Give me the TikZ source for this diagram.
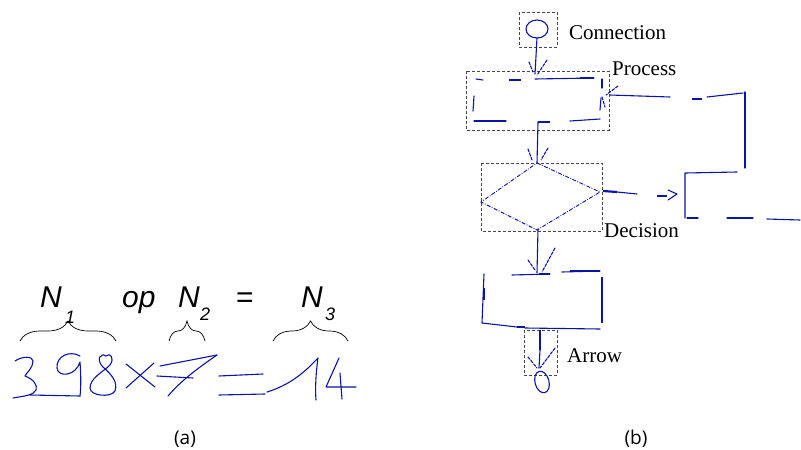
\documentclass[tikz,border=0pt]{standalone}
\usepackage{fontspec}
\setmainfont{Liberation Serif}
\newfontfamily\helv{Liberation Sans}
\newfontfamily\capfont{Open Sans}
\usetikzlibrary{decorations.pathreplacing}
\definecolor{hw}{RGB}{10,20,165}
\definecolor{boxgray}{RGB}{70,70,70}
\tikzset{
  ink/.style={draw=hw, line width=1.1pt, line cap=round, line join=round},
  thickink/.style={draw=hw, line width=2.6pt},
  frame/.style={draw=boxgray, dashed, dash pattern=on 3pt off 2pt, line width=0.8pt},
  flabel/.style={font=\fontsize{21}{24}\selectfont, inner sep=0pt},
  mlabel/.style={font=\helv\itshape\fontsize{30}{32}\selectfont, inner sep=0pt, anchor=base west},
  msub/.style={font=\helv\itshape\fontsize{18}{20}\selectfont, inner sep=0pt, anchor=base west},
  captxt/.style={font=\capfont\fontsize{19}{22}\selectfont, inner sep=0pt},
  brc/.style={draw=black, line width=0.7pt, decorate, decoration={brace, amplitude=20pt}}
}
\begin{document}
\begin{tikzpicture}[x=1pt,y=-1pt]
\useasboundingbox (0,0) rectangle (801,450);
% ---------- (a) ----------
\node[mlabel] (n1) at (40,307) {N};
\node[msub] (s1) at (65,323) {1};
\node[mlabel] (op) at (122,307) {op};
\node[mlabel] (n2) at (178,307) {N};
\node[msub] (s2) at (200,320) {2};
\node[mlabel, font=\helv\fontsize{30}{32}\selectfont] (eq) at (236,307) {=};
\node[mlabel] (n3) at (301,307) {N};
\node[msub] (s3) at (325,320) {3};
\coordinate (b1l) at (20,341); \coordinate (b1r) at (116,341);
\coordinate (b2l) at (169,341); \coordinate (b2r) at (205,341);
\coordinate (b3l) at (273,341); \coordinate (b3r) at (348,341);
\draw[brc] (b1l) -- (b1r);
\draw[brc] (b2l) -- (b2r);
\draw[brc] (b3l) -- (b3r);
% handwriting 398x7=14
\draw[ink] (15,361) .. controls (22,356) and (33,356) .. (33,361) .. controls (33,368) and (27,372) .. (25,376)
  .. controls (33,379) and (38,385) .. (36,390) .. controls (34,395) and (25,396) .. (13,398);
\draw[ink] (30,395) -- (80,396);
\draw[ink] (80,356) .. controls (70,350) and (56,356) .. (57,368) .. controls (58,378) and (76,376) .. (80,362)
  .. controls (81,375) and (81,388) .. (80,396);
\draw[ink] (106,356) .. controls (100,352) and (96,360) .. (103,367) .. controls (112,375) and (118,382) .. (115,391)
  .. controls (111,398) and (90,396) .. (90,388) .. controls (90,378) and (103,372) .. (110,365) .. controls (115,358) and (110,352) .. (106,356);
\draw[ink] (126,364) -- (155,387);
\draw[ink] (154,363) -- (126,388);
\draw[ink] (160,366) -- (217,355);
\draw[ink] (157,376) -- (193,378);
\draw[ink] (217,355) .. controls (195,370) and (180,382) .. (168,396);
\draw[ink] (219,376) -- (263,374);
\draw[ink] (219,395) -- (265,394);
\draw[ink] (267,392) .. controls (290,385) and (305,372) .. (318,358) .. controls (316,372) and (315,388) .. (316,400);
\draw[ink] (339,358) -- (326,387) -- (356,387);
\draw[ink] (340,373) -- (342,399);
\node[captxt] (ca) at (185,439) {(a)};
% ---------- (b) ----------
% connection
\draw[frame] (519,12) rectangle (557,47);
\coordinate (circ) at (537,29);
\draw[ink] (circ) ellipse [x radius=11, y radius=9];
\coordinate (ctop) at (537,38);
\node[flabel, anchor=west] (lconn) at (569,33) {Connection};
% process
\draw[frame] (466,71) rectangle (609,130);
\node[flabel, anchor=west] (lproc) at (612,69) {Process};
\draw[ink] (476,79) -- (483,80);
\draw[thickink] (509,80) -- (521,80);
\draw[ink] (535,79) -- (594,78);
\draw[thickink] (580,78) -- (594,78);
\draw[ink] (602,79) -- (602,88);
\draw[ink] (601,98) -- (600,110);
\draw[ink] (474,96) -- (473,111);
\draw[ink] (474,121) -- (506,121);
\draw[thickink] (538,122) -- (550,122);
\draw[ink] (570,121) -- (600,119);
% conn -> process
\coordinate (p1) at (535,74);
\draw[ink] (ctop) -- (p1);
\draw[ink, dash pattern=on 3pt off 1.5pt] (529,62) -- (533,72);
\draw[ink, dash pattern=on 3pt off 1.5pt] (547,60) -- (537,75);
% process -> decision
\coordinate (p2) at (538,122);
\coordinate (d1) at (537,163);
\draw[ink] (p2) -- (d1);
\draw[ink, dash pattern=on 3pt off 1.5pt] (528,149) -- (532,160);
\draw[ink, dash pattern=on 3pt off 1.5pt] (548,148) -- (541,160);
% decision
\draw[frame] (481,163) rectangle (602,231);
\draw[draw=hw, line width=0.9pt, dash pattern=on 4pt off 1.5pt on 0.8pt off 1.5pt] (537,163) -- (600,192) -- (537,230) -- (481,202) -- cycle;
\node[flabel, anchor=west] (ldec) at (604,231) {Decision};
% decision -> loop
\draw[thickink, line width=2.2pt] (603,191) -- (617,192);
\draw[ink] (617,192) -- (637,194);
\draw[thickink, line width=2.2pt] (657,196) -- (667,196);
\draw[ink] (668,190) -- (677,194) -- (668,200);
\draw[ink] (685,218) -- (685,173) -- (737,172);
\draw[ink] (745,168) -- (745,92);
\draw[ink] (743,93) -- (707,97);
\draw[thickink, line width=2.2pt] (692,99) -- (702,99);
\draw[ink] (670,97) -- (610,95);
\draw[ink] (687,218) -- (698,218);
\draw[ink] (727,218) -- (753,218);
\draw[ink] (767,219) -- (800,220);
\draw[ink, dash pattern=on 3pt off 1.5pt] (618,86) -- (606,95);
\draw[ink, dash pattern=on 3pt off 1.5pt] (602,97) -- (605,107);
% decision -> box
\coordinate (d2) at (538,229);
\coordinate (r1) at (537,273);
\draw[ink] (d2) -- (r1);
\draw[ink, dash pattern=on 3pt off 1.5pt] (528,260) -- (535,270);
\draw[ink, dash pattern=on 3pt off 1.5pt] (555,248) -- (542,272);
% lower box
\draw[ink] (512,275) -- (550,274);
\draw[thickink, line width=2pt] (539,274) -- (550,274);
\draw[ink] (562,272) -- (600,271);
\draw[thickink, line width=2pt] (570,271) -- (600,271);
\draw[ink] (484,274) -- (482,323) -- (517,327);
\draw[thickink, line width=2.2pt] (484,288) -- (484,300);
\draw[thickink, line width=2pt] (517,327) -- (525,327);
\draw[ink] (525,328) -- (600,329);
\draw[thickink, line width=2pt] (602,277) -- (602,323);
% arrow
\draw[frame] (524,330) rectangle (557,375);
\node[flabel, anchor=west] (larr) at (567,356) {Arrow};
\coordinate (a1) at (540,330);
\coordinate (a2) at (539,368);
\draw[thickink, line width=1.8pt] (a1) -- (540,350);
\draw[ink] (540,350) -- (a2);
\draw[ink, dash pattern=on 3pt off 1.5pt] (528,357) -- (537,368);
\draw[ink, dash pattern=on 3pt off 1.5pt] (555,348) -- (540,368);
\draw[ink, rotate around={15:(542,382)}] (542,382) ellipse [x radius=7, y radius=11];
\node[captxt] (cb) at (636,439) {(b)};
\end{tikzpicture}
\end{document}
